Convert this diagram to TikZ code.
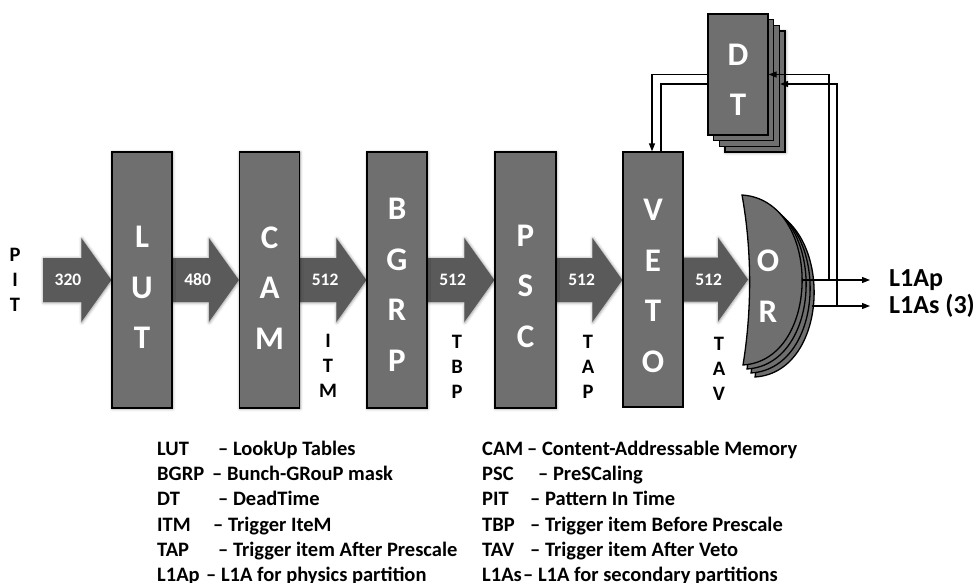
\documentclass[tikz,border=0pt]{standalone}
\usepackage{fontspec}
\setmainfont{Carlito}
\usetikzlibrary{arrows.meta,shadows.blur,calc}
\definecolor{boxgray}{HTML}{6F6F6F}
\definecolor{arrgray}{HTML}{5A5A5A}
\pgfdeclarelayer{back}
\pgfdeclarelayer{arr}
\pgfsetlayers{back,arr,main}
\tikzset{
  block/.style={draw=black, line width=1.3pt, fill=boxgray, inner sep=0pt, minimum width=60pt, minimum height=256pt},
  softshadow/.style={blur shadow={shadow xshift=0.5pt, shadow yshift=-0.5pt, shadow blur radius=3pt, shadow opacity=45}},
  blocktext/.style={text=white, font=\fontsize{33}{50.5}\selectfont\bfseries, align=center, inner sep=0pt},
  vlabel/.style={font=\fontsize{20.5}{25}\selectfont\bfseries, align=center, inner sep=0pt},
  numlabel/.style={text=white, font=\fontsize{17.5}{17.5}\selectfont\bfseries, inner sep=0pt},
  fatarrow/.style={fill=arrgray, softshadow},
  fb/.style={line width=1.3pt, draw=black},
  arrowend/.style={-{Triangle[length=8pt,width=6pt]}},
  outlabel/.style={font=\fontsize{26}{26}\selectfont\bfseries, anchor=west, inner sep=0pt},
  legendtxt/.style={font=\fontsize{20.5}{20.5}\selectfont\bfseries, anchor=base west, inner sep=0pt},
  orstyle/.style={draw=black, line width=1.3pt, fill=boxgray},
}
\newcommand{\fatarrow}[4]{%
  \path[fatarrow] let \p1=(#1), \p2=(#2) in
    (\x1,{\y1+22pt}) -- ({\x2-30pt},{\y1+22pt}) -- ({\x2-30pt},{\y1+42pt}) -- (\x2,\y1)
    -- ({\x2-30pt},{\y1-42pt}) -- ({\x2-30pt},{\y1-22pt}) -- (\x1,{\y1-22pt}) -- cycle;
  \path let \p1=(#1) in node[numlabel] (#4) at ({\x1+25pt},\y1) {#3};
}
\newcommand{\orlayer}[2]{%
  \path[orstyle, shift={(#1,#2)}] (742,195) .. controls (822,200) and (822,360) .. (743,365)
    .. controls (752,310) and (752,250) .. cycle;
}
\begin{document}
\begin{tikzpicture}[x=1pt,y=-1pt]
\useasboundingbox (0,0) rectangle (979,583);

% ---- stacked back layers ----
\begin{pgfonlayer}{back}
  \node[block, minimum height=255pt, softshadow] (veto3) at (670.1,296.6) {};
  \node[block, minimum height=255pt] (veto2) at (664.4,290.9) {};
  \node[block, minimum height=255pt] (veto1) at (658.7,285.2) {};
\end{pgfonlayer}
\node[block, minimum height=121pt, softshadow] (dt3) at (755.1,91.6) {};
\node[block, minimum height=121pt] (dt2) at (749.4,85.9) {};
\node[block, minimum height=121pt] (dt1) at (743.7,80.2) {};

% ---- main blocks ----
\node[block, softshadow] (lut) at (142,280) {};
\node[block, softshadow] (cam) at (269.5,280) {};
\node[block, softshadow] (bgrp) at (397,280) {};
\node[block, softshadow, minimum width=61pt] (psc) at (525.5,280) {};
\node[block, minimum height=255pt] (veto) at (653,279.5) {};
\node[block, minimum height=121pt] (dt) at (738,74.5) {};

\node[blocktext] (lutT) at (142,287.5) {L\\U\\T};
\node[blocktext] (camT) at (269.5,288) {C\\A\\M};
\node[blocktext] (bgrpT) at (397,285) {B\\G\\R\\P};
\node[blocktext] (pscT) at (525.5,286) {P\\S\\C};
\node[blocktext] (vetoT) at (653,286) {V\\E\\T\\O};
\node[blocktext] (dtT) at (738,80) {D\\T};

% ---- OR gate ----
\orlayer{12}{12}
\orlayer{8}{8}
\orlayer{4}{4}
\orlayer{0}{0}
\node[blocktext] (orT) at (768,286) {O\\R};

% ---- coordinates ----
\coordinate (pitin) at (43,280);
\coordinate (orin) at (748,280);
\coordinate (orp) at (802,280);
\coordinate (ors) at (812,306);
\coordinate (fbA) at (829,280);
\coordinate (fbB) at (837,306);
\coordinate (fbBy) at (0,84);
\coordinate (vA) at (652,0);
\coordinate (vB) at (661,0);
\coordinate (apend) at (870,280);
\coordinate (asend) at (870,306);

% ---- fat arrows ----
\begin{pgfonlayer}{arr}
  \fatarrow{pitin}{lut.west}{320}{n320}
  \fatarrow{lut.east}{cam.west}{480}{n480}
  \fatarrow{cam.east}{bgrp.west}{512}{nitm}
  \fatarrow{bgrp.east}{psc.west}{512}{ntbp}
  \fatarrow{psc.east}{veto.west}{512}{ntap}
  \fatarrow{veto.east}{orin}{512}{ntav}
\end{pgfonlayer}

% ---- vertical labels ----
\node[vlabel] (pit) at (15,280) {P\\I\\T};
\node[vlabel] (itm) at (328,366) {I\\T\\M};
\node[vlabel] (tbp) at (457,367) {T\\B\\P};
\node[vlabel] (tap) at (588,367) {T\\A\\P};
\node[vlabel] (tav) at (719,369) {T\\A\\V};

% ---- outputs and feedback ----
\node[outlabel] (l1ap) at (889,280) {L1Ap};
\node[outlabel] (l1as) at (889,306) {L1As (3)};
\draw[fb, arrowend] (orp) -- (apend);
\draw[fb, arrowend] (ors) -- (asend);
\draw[fb, arrowend] (fbA) |- (dt.east);
\draw[fb, arrowend] (fbB) |- (dt2.east |- fbBy);
\draw[fb, arrowend] (dt.west) -| (veto.north -| vA);
\draw[fb] (dt.west |- fbBy) -| (veto.north -| vB);

% ---- legend ----
\node[legendtxt] (k1a) at (157,455) {LUT};
\node[legendtxt] (k1b) at (218,455) {– LookUp Tables};
\node[legendtxt] (k2a) at (157,480) {BGRP};
\node[legendtxt] (k2b) at (212,480) {– Bunch-GRouP mask};
\node[legendtxt] (k3a) at (157,505) {DT};
\node[legendtxt] (k3b) at (218,505) {– DeadTime};
\node[legendtxt] (k4a) at (157,531) {ITM};
\node[legendtxt] (k4b) at (213,531) {– Trigger IteM};
\node[legendtxt] (k5a) at (157,556) {TAP};
\node[legendtxt] (k5b) at (218,556) {– Trigger item After Prescale};
\node[legendtxt] (k6a) at (157,581) {L1Ap};
\node[legendtxt] (k6b) at (206,581) {– L1A for physics partition};

\node[legendtxt] (r1a) at (482,455) {CAM};
\node[legendtxt] (r1b) at (527,455) {– Content-Addressable Memory};
\node[legendtxt] (r2a) at (482,480) {PSC};
\node[legendtxt] (r2b) at (538,480) {– PreSCaling};
\node[legendtxt] (r3a) at (482,505) {PIT};
\node[legendtxt] (r3b) at (530,505) {– Pattern In Time};
\node[legendtxt] (r4a) at (482,531) {TBP};
\node[legendtxt] (r4b) at (530,531) {– Trigger item Before Prescale};
\node[legendtxt] (r5a) at (482,556) {TAV};
\node[legendtxt] (r5b) at (530,556) {– Trigger item After Veto};
\node[legendtxt] (r6a) at (482,581) {L1As};
\node[legendtxt] (r6b) at (523,581) {– L1A for secondary partitions};
\end{tikzpicture}
\end{document}
